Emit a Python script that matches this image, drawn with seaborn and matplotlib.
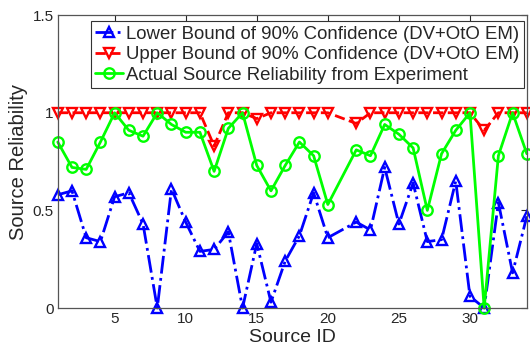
import matplotlib
matplotlib.use("Agg")
import matplotlib.pyplot as plt
import seaborn as sns
import pandas as pd

# Source IDs (source 21 has no estimate)
source_ids = list(range(1, 21)) + list(range(22, 35))

lower_bound = [0.58, 0.60, 0.36, 0.34, 0.57, 0.59, 0.43, 0.00, 0.61, 0.44,
               0.29, 0.30, 0.39, 0.00, 0.33, 0.03, 0.24, 0.37, 0.59, 0.36,
               0.44, 0.40, 0.72, 0.43, 0.64, 0.34, 0.35, 0.65, 0.06, 0.00,
               0.54, 0.18, 0.47]

upper_bound = [1.00, 1.00, 1.00, 1.00, 1.00, 1.00, 1.00, 1.00, 1.00, 1.00,
               1.00, 0.83, 1.00, 1.00, 0.97, 1.00, 1.00, 1.00, 1.00, 1.00,
               0.945, 1.00, 1.00, 1.00, 1.00, 1.00, 1.00, 1.00, 1.00, 0.91,
               1.00, 1.00, 1.00]

actual = [0.85, 0.72, 0.71, 0.85, 1.00, 0.91, 0.88, 1.00, 0.94, 0.90,
          0.90, 0.70, 0.92, 1.00, 0.73, 0.60, 0.73, 0.85, 0.78, 0.53,
          0.81, 0.78, 0.94, 0.89, 0.82, 0.50, 0.79, 0.91, 1.00, 0.00,
          0.78, 1.00, 0.79]

x_ticks = [5, 10, 15, 20, 25, 30]
y_ticks = [0, 0.5, 1, 1.5]
y_tick_labels = ["0", "0.5", "1", "1.5"]

labels = ["Lower Bound of 90% Confidence (DV+OtO EM)",
          "Upper Bound of 90% Confidence (DV+OtO EM)",
          "Actual Source Reliability from Experiment"]

sns.set_theme(style="white")
plt.rcParams["font.family"] = ["Liberation Sans", "DejaVu Sans"]

df = pd.DataFrame({"source": source_ids, "lower": lower_bound,
                   "upper": upper_bound, "actual": actual})

fig, ax = plt.subplots(figsize=(5.3, 3.52), dpi=100)
fig.subplots_adjust(left=0.109, right=0.994, bottom=0.125, top=0.957)

common = dict(ax=ax, linewidth=2.0, markersize=7.5, markerfacecolor="none",
              markeredgewidth=1.7, clip_on=False)
sns.lineplot(data=df, x="source", y="lower", color=(0, 0, 1), marker="^",
             linestyle="-.", markeredgecolor=(0, 0, 1), label=labels[0], **common)
sns.lineplot(data=df, x="source", y="upper", color=(1, 0, 0), marker="v",
             linestyle="--", markeredgecolor=(1, 0, 0), label=labels[1], **common)
sns.lineplot(data=df, x="source", y="actual", color=(0, 1, 0), marker="o",
             linestyle="-", markeredgecolor=(0, 1, 0), label=labels[2], **common)

ax.set_xlim(1, 34)
ax.set_ylim(0, 1.5)
ax.set_xticks(x_ticks)
ax.set_xticklabels([str(t) for t in x_ticks])
ax.set_yticks(y_ticks)
ax.set_yticklabels(y_tick_labels)
ax.tick_params(direction="in", length=4, width=0.8, top=True, right=True,
               labelsize=11, colors="#262626", pad=3)
for s in ax.spines.values():
    s.set_color("#555555")
    s.set_linewidth(0.9)

ax.set_xlabel("Source ID", fontsize=14, labelpad=2)
ax.set_ylabel("Source Reliability", fontsize=14.5, labelpad=3)

leg = ax.legend(loc="upper right", bbox_to_anchor=(0.997, 0.985), fontsize=13.4,
                handlelength=1.5, handletextpad=0.15, borderpad=0.22,
                labelspacing=0.2, borderaxespad=0.1, fancybox=False,
                framealpha=1)
leg.get_frame().set_edgecolor("#333333")
leg.get_frame().set_linewidth(0.8)

fig.savefig("out.png", dpi=100)
